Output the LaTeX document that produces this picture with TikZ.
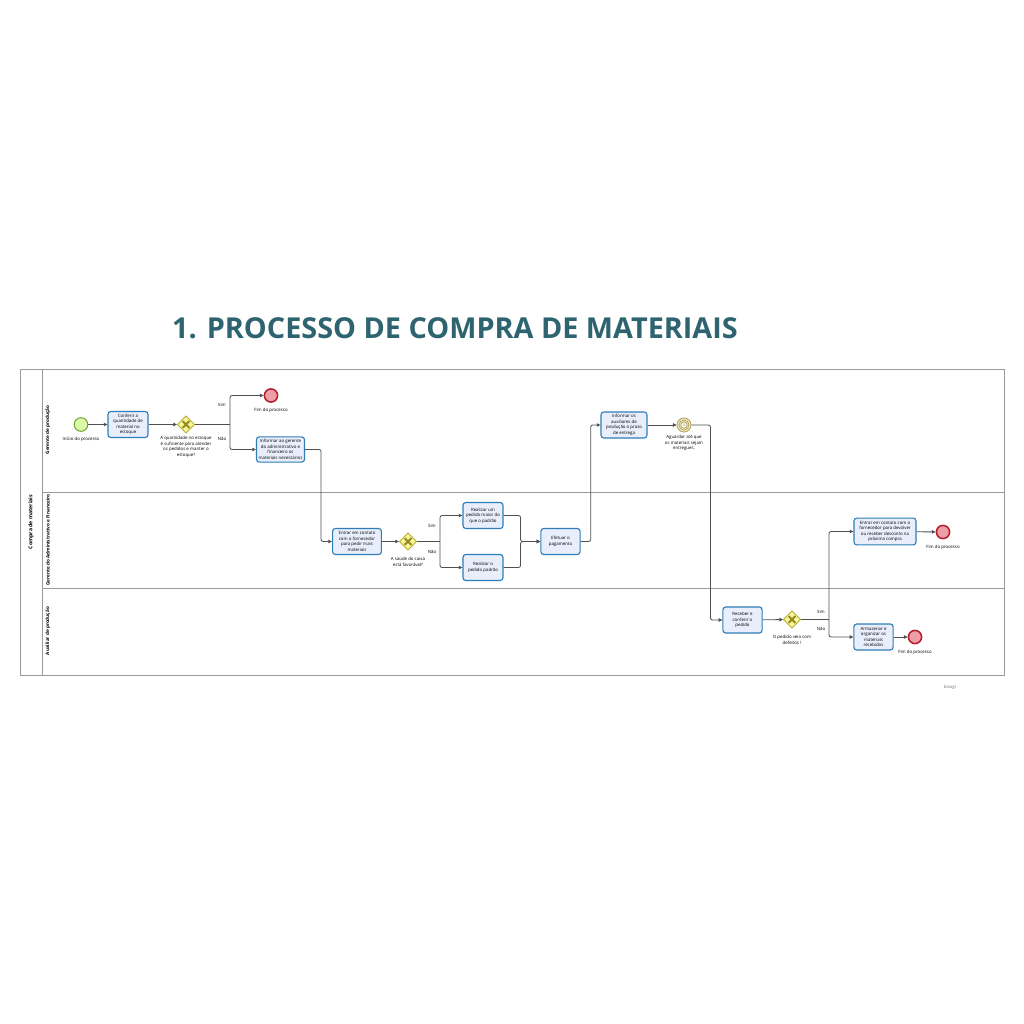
\documentclass[tikz,border=0pt]{standalone}
\usepackage{fontspec}
\setmainfont{Open Sans}
\usepackage{tikz}
\usetikzlibrary{arrows.meta}
\usetikzlibrary{shapes.geometric}
\definecolor{titleteal}{HTML}{2E6470}
\definecolor{taskblue}{HTML}{2F7DB8}
\definecolor{taskfill}{HTML}{E8EEFB}
\definecolor{startgreen}{HTML}{6BA82A}
\definecolor{startfill}{HTML}{DDF7A8}
\definecolor{endred}{HTML}{B3202C}
\definecolor{endfill}{HTML}{EE9EA6}
\definecolor{gateborder}{HTML}{B8AE32}
\definecolor{gatefill}{HTML}{F8F49C}
\definecolor{gatemark}{HTML}{938A1E}
\definecolor{timerborder}{HTML}{B0A35C}
\definecolor{timerfill}{HTML}{EFEAC4}
\definecolor{flowgray}{HTML}{505050}
\definecolor{poolgray}{HTML}{9A9A9A}
\newcommand{\diagfont}{\fontsize{3.1}{3.9}\selectfont}
\tikzstyle{task} = [draw=taskblue, fill=taskfill, rounded corners=2pt, line width=0.8pt, align=center, inner sep=0pt, minimum width=1cm, minimum height=0.65cm, font=\diagfont]
\tikzstyle{startev} = [draw=startgreen, fill=startfill, circle, line width=0.7pt, minimum size=0.34cm, inner sep=0pt]
\tikzstyle{endev} = [draw=endred, fill=endfill, circle, line width=1.1pt, minimum size=0.33cm, inner sep=0pt]
\tikzstyle{gateway} = [draw=gateborder, fill=gatefill, diamond, line width=0.6pt, minimum size=0.43cm, inner sep=0pt,
	path picture={
		\coordinate (pc) at (path picture bounding box.center);
		\draw[gatemark, line width=1.3pt] ([shift={(-2.4pt,-2.4pt)}]pc) -- ([shift={(2.4pt,2.4pt)}]pc)
			([shift={(-2.4pt,2.4pt)}]pc) -- ([shift={(2.4pt,-2.4pt)}]pc);
	}]
\tikzstyle{timer} = [draw=timerborder, fill=timerfill, circle, line width=0.6pt, minimum size=0.35cm, inner sep=0pt,
	path picture={
		\coordinate (pc) at (path picture bounding box.center);
		\draw[timerborder, line width=0.5pt] (pc) circle [radius=0.125cm];
		\draw[timerborder, line width=0.5pt, fill=white] (pc) circle [radius=0.08cm];
		\draw[timerborder, line width=0.4pt] (pc) -- ++(0,0.06cm) (pc) -- ++(0.04cm,-0.02cm);
	}]
\tikzstyle{caption} = [align=center, inner sep=0pt, font=\diagfont]
\tikzstyle{lanelabel} = [rotate=90, inner sep=0pt, font=\fontsize{3.3}{4}\selectfont\bfseries]
\tikzstyle{flow} = [draw=flowgray, line width=0.6pt, rounded corners=1.5pt]
\tikzstyle{arrow} = [flow, -{Triangle[length=2.6pt,width=2.4pt]}]

\begin{document}
\begin{tikzpicture}[x=0.025cm, y=-0.025cm]
	\useasboundingbox[fill=white] (0,0) rectangle (1024,1024);
	\node[text=titleteal, font=\fontsize{20.5}{24}\selectfont\bfseries](title) at (455,328){1. PROCESSO DE COMPRA DE MATERIAIS};

	% pool and lanes
	\draw[poolgray, line width=0.7pt] (20,369) rectangle (1004,675);
	\draw[poolgray, line width=0.7pt] (42,369) -- (42,675);
	\draw[poolgray, line width=0.7pt] (42,492) -- (1004,492);
	\draw[poolgray, line width=0.7pt] (42,588) -- (1004,588);
	\node[lanelabel, font=\fontsize{3.7}{4.4}\selectfont\bfseries](pool) at (31,522){Compra de materiais};
	\node[lanelabel](lprod) at (48,430){Gerente de produção};
	\node[lanelabel](ladm) at (48,540){Gerente do Administrativo e Financeiro};
	\node[lanelabel](laux) at (48,631){Auxiliar de produção};

	% gerente de producao
	\node[startev](start) at (81,424.5){};
	\node[caption](cstart) at (81,439){Início do processo};
	\node[task](conf) at (128,424.5){Conferir a\\quantidade de\\material no\\estoque};
	\node[gateway](gq) at (186,424.5){};
	\node[caption](cgq) at (186,447){A quantidade no estoque\\é suficiente para atender\\os pedidos e manter o\\estoque?};
	\coordinate (sq) at (230,424.5);
	\node[caption](simq) at (222,405){Sim};
	\node[caption](naoq) at (222,439){Não};
	\node[endev](fim1) at (271,395.5){};
	\node[caption](cfim1) at (271,410){Fim do processo};
	\node[task, minimum width=1.2cm, minimum height=0.63cm](inf) at (280.5,449.5){Informar ao gerente\\do administrativo e\\financeiro os\\materiais necessários};
	\node[task, minimum width=1.15cm](aux) at (624,425){Informar os\\auxiliares de\\produção o prazo\\de entrega};
	\node[timer](esp) at (684,425){};
	\node[caption](cesp) at (684,443){Aguardar até que\\os materiais sejam\\entregues.};

	% gerente do administrativo e financeiro
	\node[task, minimum width=1.22cm](cont) at (357,541.5){Entrar em contato\\com o fornecedor\\para pedir mais\\materiais};
	\node[gateway](gs) at (408,541.5){};
	\node[caption](cgs) at (408,562){A saúde do caixa\\está favorável?};
	\coordinate (ss) at (440,541.5);
	\node[caption](sims) at (432,525.5){Sim};
	\node[caption](naos) at (432,552){Não};
	\node[task](maior) at (483,515.5){Realizar um\\pedido maior do\\que o padrão};
	\node[task](padr) at (483,567.5){Realizar o\\pedido padrão};
	\node[task, minimum width=0.98cm](pag) at (560.5,541.5){Efetuar o\\pagamento};
	\node[task, minimum width=1.55cm, minimum height=0.67cm](dev) at (885,531.5){Entrar em contato com o\\fornecedor para devolver\\ou receber desconto na\\próxima compra};
	\node[endev](fim2) at (943,532){};
	\node[caption](cfim2) at (943,547){Fim do processo};

	% auxiliar de producao
	\node[task, minimum width=0.98cm](rec) at (742.5,620){Receber e\\conferir o\\pedido};
	\node[gateway](gd) at (792,619.5){};
	\node[caption](cgd) at (792,640){O pedido veio com\\defeitos !};
	\coordinate (sd) at (829,619.5);
	\node[caption](simd) at (821,612){Sim};
	\node[caption](naod) at (821,629){Não};
	\node[task, minimum width=0.98cm](arm) at (873.5,637){Armazenar e\\organizar os\\materiais\\recebidos};
	\node[endev](fim3) at (915,637){};
	\node[caption](cfim3) at (915,652){Fim do processo};

	\node[text=gray!70, font=\fontsize{3}{3.5}\selectfont\bfseries](logo) at (950,687){bizagi};

	% connectors
	\draw[arrow](start) -- (conf);
	\draw[arrow](conf) -- (gq);
	\draw[flow](gq) -- (sq);
	\draw[arrow](sq) |- (fim1);
	\draw[arrow](sq) |- (inf);
	\draw[arrow](inf.east) -- ++(16,0) |- (cont.west);
	\draw[arrow](cont) -- (gs);
	\draw[flow](gs) -- (ss);
	\draw[arrow](ss) |- (maior);
	\draw[arrow](ss) |- (padr);
	\draw[arrow](maior.east) -- ++(17,0) |- (pag.west);
	\draw[arrow](padr.east) -- ++(17,0) |- (pag.west);
	\draw[arrow](pag.east) -- ++(10,0) |- (aux.west);
	\draw[arrow](aux) -- (esp);
	\draw[arrow](esp.east) -- ++(19,0) |- (rec.west);
	\draw[arrow](rec) -- (gd);
	\draw[flow](gd) -- (sd);
	\draw[arrow](sd) |- (dev);
	\draw[arrow](sd) |- (arm);
	\draw[arrow](dev) -- (fim2);
	\draw[arrow](arm) -- (fim3);
\end{tikzpicture}
\end{document}
